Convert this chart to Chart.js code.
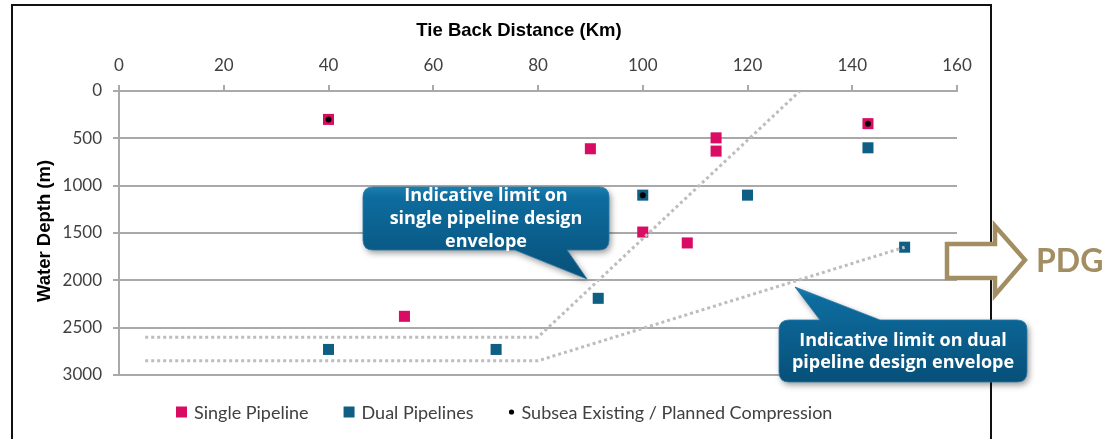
<!DOCTYPE html>
<html>
<head>
<meta charset="utf-8">
<script src="https://cdn.jsdelivr.net/npm/chart.js@4.4.1/dist/chart.umd.min.js"></script>
<style>
  html, body { margin: 0; padding: 0; background: #fff; overflow: hidden; }
  canvas { display: block; }
</style>
</head>
<body>
<canvas id="chart" width="1105" height="439"></canvas>
<script>
// Tie-back distance (km) vs water depth (m) for gas field developments
const singleX = [40, 54.5, 90, 100, 108.5, 114, 114, 143];
const singleY = [300, 2380, 610, 1490, 1605, 495, 635, 345];

const dualX = [40, 72, 91.5, 100, 120, 143, 150];
const dualY = [2730, 2730, 2190, 1100, 1100, 600, 1650];

const compressionX = [40, 100, 143];
const compressionY = [300, 1100, 345];

// Indicative design envelope limits
const singleLimitX = [5, 80, 130];
const singleLimitY = [2600, 2600, 0];
const dualLimitX = [5, 80, 150];
const dualLimitY = [2850, 2850, 1650];

const xTickStep = 20, xMin = 0, xMax = 160;
const yTickStep = 500, yMin = 0, yMax = 3000;

const seriesNames = ['Single Pipeline', 'Dual Pipelines', 'Subsea Existing / Planned Compression'];
const xTitle = 'Tie Back Distance (Km)';
const yTitle = 'Water Depth (m)';
const singleNote = ['Indicative limit on', 'single pipeline design', 'envelope'];
const dualNote = ['Indicative limit on dual', 'pipeline design envelope'];
const arrowLabel = 'PDG';

const PINK = '#D80C63';
const TEAL = '#0F5E84';
const GRID = '#A9A9A9';
const DOTS = '#BDBDBD';
const TEXT = '#404040';
const TAN = '#A38E64';

const toPoints = (xs, ys) => xs.map((x, i) => ({ x: x, y: ys[i] }));

// Frame, axis titles, legend, callouts and the PDG arrow
const decorations = {
  id: 'decorations',
  beforeDraw(chart) {
    const ctx = chart.ctx;
    ctx.save();
    ctx.fillStyle = '#fff';
    ctx.fillRect(0, 0, chart.width, chart.height);
    ctx.restore();
  },
  afterDraw(chart) {
    const ctx = chart.ctx;
    ctx.save();

    // outer frame
    ctx.strokeStyle = '#111';
    ctx.lineWidth = 2;
    ctx.beginPath();
    ctx.moveTo(12, 460);
    ctx.lineTo(12, 5);
    ctx.lineTo(991, 5);
    ctx.lineTo(991, 460);
    ctx.stroke();

    // axis titles
    ctx.fillStyle = '#000';
    ctx.font = 'bold 18.5px "Liberation Sans", Arial, sans-serif';
    ctx.textAlign = 'center';
    ctx.textBaseline = 'middle';
    ctx.fillText(xTitle, 519, 31);
    ctx.save();
    ctx.translate(45, 231);
    ctx.rotate(-Math.PI / 2);
    ctx.fillText(yTitle, 0, 0);
    ctx.restore();

    // legend
    ctx.font = '18px Lato, sans-serif';
    ctx.textAlign = 'left';
    ctx.textBaseline = 'middle';
    const ly = 412;
    let lx = 176;
    const markers = [
      (x) => { ctx.fillStyle = PINK; ctx.fillRect(x, ly - 5.5, 11, 11); return 11; },
      (x) => { ctx.fillStyle = TEAL; ctx.fillRect(x, ly - 5.5, 11, 11); return 11; },
      (x) => { ctx.fillStyle = '#000'; ctx.beginPath(); ctx.arc(x + 3, ly, 2.6, 0, Math.PI * 2); ctx.fill(); return 6; }
    ];
    seriesNames.forEach((name, i) => {
      const w = markers[i](lx);
      ctx.fillStyle = TEXT;
      const tx = lx + w + 7;
      ctx.fillText(name, tx, ly + 1);
      lx = tx + ctx.measureText(name).width + 35;
    });

    // callouts
    drawCallout(ctx, { x: 363, y: 187, w: 246, h: 63, r: 10 },
      { side: 'bottom', a: 515, b: 567, tipX: 587, tipY: 279 },
      singleNote, 486, 196, 23);
    drawCallout(ctx, { x: 779, y: 320, w: 248, h: 62, r: 10 },
      { side: 'top', a: 820, b: 880, tipX: 795, tipY: 287 },
      dualNote, 903, 341, 22);

    // PDG arrow
    ctx.beginPath();
    ctx.moveTo(947, 244);
    ctx.lineTo(995, 244);
    ctx.lineTo(995, 226);
    ctx.lineTo(1025, 260);
    ctx.lineTo(995, 295);
    ctx.lineTo(995, 278);
    ctx.lineTo(947, 278);
    ctx.closePath();
    ctx.fillStyle = '#fff';
    ctx.fill();
    ctx.lineWidth = 4.5;
    ctx.lineJoin = 'miter';
    ctx.strokeStyle = TAN;
    ctx.stroke();
    ctx.fillStyle = TAN;
    ctx.font = 'bold 32px Lato, sans-serif';
    ctx.textAlign = 'left';
    ctx.textBaseline = 'alphabetic';
    ctx.fillText(arrowLabel, 1036, 272);

    ctx.restore();
  }
};

function drawCallout(ctx, box, tail, lines, cx, firstY, lineGap) {
  const { x, y, w, h, r } = box;
  ctx.save();
  ctx.beginPath();
  ctx.moveTo(x + r, y);
  if (tail.side === 'top') {
    ctx.lineTo(tail.a, y);
    ctx.lineTo(tail.tipX, tail.tipY);
    ctx.lineTo(tail.b, y);
  }
  ctx.lineTo(x + w - r, y);
  ctx.quadraticCurveTo(x + w, y, x + w, y + r);
  ctx.lineTo(x + w, y + h - r);
  ctx.quadraticCurveTo(x + w, y + h, x + w - r, y + h);
  if (tail.side === 'bottom') {
    ctx.lineTo(tail.b, y + h);
    ctx.lineTo(tail.tipX, tail.tipY);
    ctx.lineTo(tail.a, y + h);
  }
  ctx.lineTo(x + r, y + h);
  ctx.quadraticCurveTo(x, y + h, x, y + h - r);
  ctx.lineTo(x, y + r);
  ctx.quadraticCurveTo(x, y, x + r, y);
  ctx.closePath();

  const top = Math.min(y, tail.tipY);
  const bottom = Math.max(y + h, tail.tipY);
  const grad = ctx.createLinearGradient(0, top, 0, bottom);
  grad.addColorStop(0, '#1C7DAF');
  grad.addColorStop(0.12, '#0D6C9E');
  grad.addColorStop(1, '#075079');
  ctx.shadowColor = 'rgba(0,0,0,0.4)';
  ctx.shadowBlur = 6;
  ctx.shadowOffsetX = 2;
  ctx.shadowOffsetY = 3;
  ctx.fillStyle = grad;
  ctx.fill();
  ctx.shadowColor = 'transparent';
  ctx.lineWidth = 1;
  ctx.strokeStyle = 'rgba(40,120,170,0.8)';
  ctx.stroke();

  ctx.fillStyle = '#fff';
  ctx.font = 'bold 18px "Open Sans", sans-serif';
  ctx.textAlign = 'center';
  ctx.textBaseline = 'middle';
  lines.forEach((t, i) => ctx.fillText(t, cx, firstY + i * lineGap));
  ctx.restore();
}

const plainNumber = (v) => String(v);

new Chart(document.getElementById('chart'), {
  type: 'scatter',
  data: {
    datasets: [
      {
        label: seriesNames[2],
        data: toPoints(compressionX, compressionY),
        pointStyle: 'circle',
        pointRadius: 3,
        backgroundColor: '#000',
        borderWidth: 0,
        order: 0
      },
      {
        label: 'single limit',
        data: toPoints(singleLimitX, singleLimitY),
        showLine: true,
        borderColor: DOTS,
        borderWidth: 3,
        borderDash: [3, 3],
        pointRadius: 0,
        order: 1
      },
      {
        label: 'dual limit',
        data: toPoints(dualLimitX, dualLimitY),
        showLine: true,
        borderColor: DOTS,
        borderWidth: 3,
        borderDash: [3, 3],
        pointRadius: 0,
        order: 1
      },
      {
        label: seriesNames[0],
        data: toPoints(singleX, singleY),
        pointStyle: 'rect',
        pointRadius: 7.8,
        backgroundColor: PINK,
        borderWidth: 0,
        order: 2
      },
      {
        label: seriesNames[1],
        data: toPoints(dualX, dualY),
        pointStyle: 'rect',
        pointRadius: 7.8,
        backgroundColor: TEAL,
        borderWidth: 0,
        order: 2
      }
    ]
  },
  options: {
    responsive: false,
    animation: false,
    events: [],
    layout: { padding: { left: 0, top: 0, right: 148, bottom: 64 } },
    plugins: { legend: { display: false }, tooltip: { enabled: false } },
    scales: {
      x: {
        type: 'linear',
        position: 'top',
        min: xMin,
        max: xMax,
        afterFit: (s) => { s.height = 91; },
        ticks: { stepSize: xTickStep, padding: 9, color: TEXT, font: { family: 'Lato', size: 17 }, callback: plainNumber },
        grid: { drawOnChartArea: false, drawTicks: true, tickLength: 6, color: GRID, lineWidth: 2 },
        border: { display: true, color: GRID, width: 2 }
      },
      y: {
        type: 'linear',
        reverse: true,
        min: yMin,
        max: yMax,
        afterFit: (s) => { s.width = 119; },
        ticks: { stepSize: yTickStep, padding: 11, color: TEXT, font: { family: 'Lato', size: 17 }, callback: plainNumber },
        grid: { color: GRID, lineWidth: 2, tickLength: 6 },
        border: { display: true, color: GRID, width: 2 }
      }
    }
  },
  plugins: [decorations]
});
</script>
</body>
</html>
